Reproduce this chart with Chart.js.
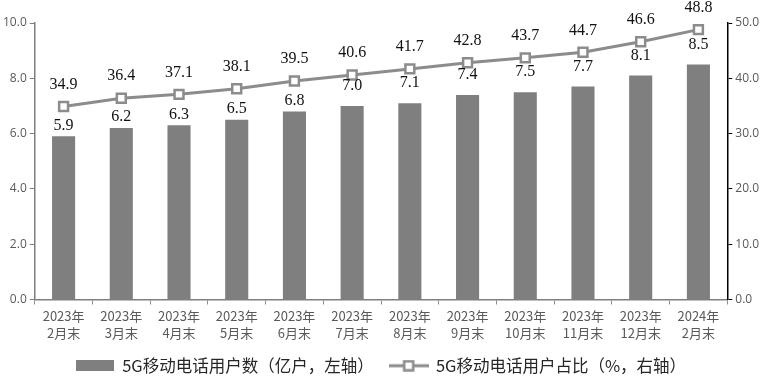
<!DOCTYPE html>
<html><head><meta charset="utf-8">
<script src="https://cdn.jsdelivr.net/npm/chart.js@4/dist/chart.umd.min.js"></script>
<style>html,body{margin:0;padding:0;background:#fff;}#wrap{width:768px;height:383px;}</style>
</head><body><div id="wrap"><canvas id="c" width="768" height="383"></canvas></div>
<script>
const categories = [['2023年','2月末'],['2023年','3月末'],['2023年','4月末'],['2023年','5月末'],['2023年','6月末'],['2023年','7月末'],['2023年','8月末'],['2023年','9月末'],['2023年','10月末'],['2023年','11月末'],['2023年','12月末'],['2024年','2月末']];
const users = [5.9,6.2,6.3,6.5,6.8,7.0,7.1,7.4,7.5,7.7,8.1,8.5];
const share = [34.9,36.4,37.1,38.1,39.5,40.6,41.7,42.8,43.7,44.7,46.6,48.8];
const seriesNames = ['5G移动电话用户数（亿户，左轴）','5G移动电话用户占比（%，右轴）'];

const barColor = '#7f7f7f';
const lineColor = '#8c8c8c';

function mkBarIcon(){
  const c=document.createElement('canvas'); c.width=38; c.height=11;
  const g=c.getContext('2d'); g.fillStyle=barColor; g.fillRect(0,0,38,11); return c;
}
function mkLineIcon(){
  const c=document.createElement('canvas'); c.width=40; c.height=12;
  const g=c.getContext('2d'); g.strokeStyle=lineColor; g.lineWidth=3;
  g.beginPath(); g.moveTo(0,6); g.lineTo(40,6); g.stroke();
  g.fillStyle='#fff'; g.fillRect(15.5,1.5,9,9);
  g.lineWidth=2.5; g.strokeRect(15.5,1.5,9,9); return c;
}

const labelPlugin = {
  id:'valLabels',
  afterDatasetsDraw(chart){
    const ctx=chart.ctx; ctx.save();
    ctx.font='16px "Liberation Serif", "Times New Roman", serif';
    ctx.fillStyle='#111'; ctx.textAlign='center'; ctx.textBaseline='middle';
    chart.data.datasets.forEach((ds,di)=>{
      const meta=chart.getDatasetMeta(di);
      meta.data.forEach((el,i)=>{
        const v=ds.data[i];
        let off;
        if(ds.type==='line') off = 22;
        else off = v>=7 ? 20 : 11;
        ctx.fillText(v.toFixed(1), el.x, el.y-off);
      });
    });
    ctx.restore();
  }
};

new Chart(document.getElementById('c'),{
  data:{
    labels:categories,
    datasets:[
      {type:'line',label:seriesNames[1],data:share,yAxisID:'y2',borderColor:lineColor,borderWidth:3,
       pointStyle:'rect',pointRadius:6.3,pointBorderWidth:2.5,pointBackgroundColor:'#fff',pointBorderColor:lineColor,
       tension:0,order:0},
      {type:'bar',label:seriesNames[0],data:users,yAxisID:'y',backgroundColor:barColor,
       barPercentage:0.4,categoryPercentage:1.0,order:1}
    ]
  },
  options:{
    responsive:false,animation:false,
    layout:{padding:{top:23,right:6,left:0,bottom:-1}},
    plugins:{
      tooltip:{enabled:false},
      legend:{position:'bottom',
        labels:{usePointStyle:true,pointStyleWidth:38,boxHeight:12,padding:16,
          font:{family:'"Noto Sans CJK SC", sans-serif',size:16.5},color:'#262626',
          generateLabels(chart){
            return [
              {text:seriesNames[0],pointStyle:mkBarIcon(),fillStyle:barColor,strokeStyle:barColor,lineWidth:0,datasetIndex:1,fontColor:'#262626'},
              {text:seriesNames[1],pointStyle:mkLineIcon(),fillStyle:'#fff',strokeStyle:lineColor,lineWidth:0,datasetIndex:0,fontColor:'#262626'}
            ];
          }
        }
      }
    },
    scales:{
      x:{offset:true,
        afterFit(s){ s.height = 42; },
        grid:{display:true,drawOnChartArea:false,drawTicks:true,tickLength:5,color:'#8c8c8c',offset:true},
        border:{display:true,color:'#7f7f7f',width:1.5},
        ticks:{color:'#595959',font:{family:'"Noto Sans CJK SC", sans-serif',size:13,lineHeight:1.3},maxRotation:0,autoSkip:false,padding:3}
      },
      y:{position:'left',min:0,max:10,
        ticks:{stepSize:2,color:'#595959',callback:v=>v.toFixed(1),font:{family:'"Open Sans", sans-serif',size:12},padding:3},
        grid:{drawOnChartArea:false,drawTicks:true,tickLength:5,color:'#7f7f7f'},
        border:{display:true,color:'#7f7f7f',width:1.5}
      },
      y2:{position:'right',min:0,max:50,
        ticks:{stepSize:10,color:'#595959',callback:v=>v.toFixed(1),font:{family:'"Open Sans", sans-serif',size:12},padding:3},
        grid:{drawOnChartArea:false,drawTicks:true,tickLength:5,color:'#000'},
        border:{display:true,color:'#000',width:1.5}
      }
    }
  },
  plugins:[labelPlugin]
});
</script></body></html>
